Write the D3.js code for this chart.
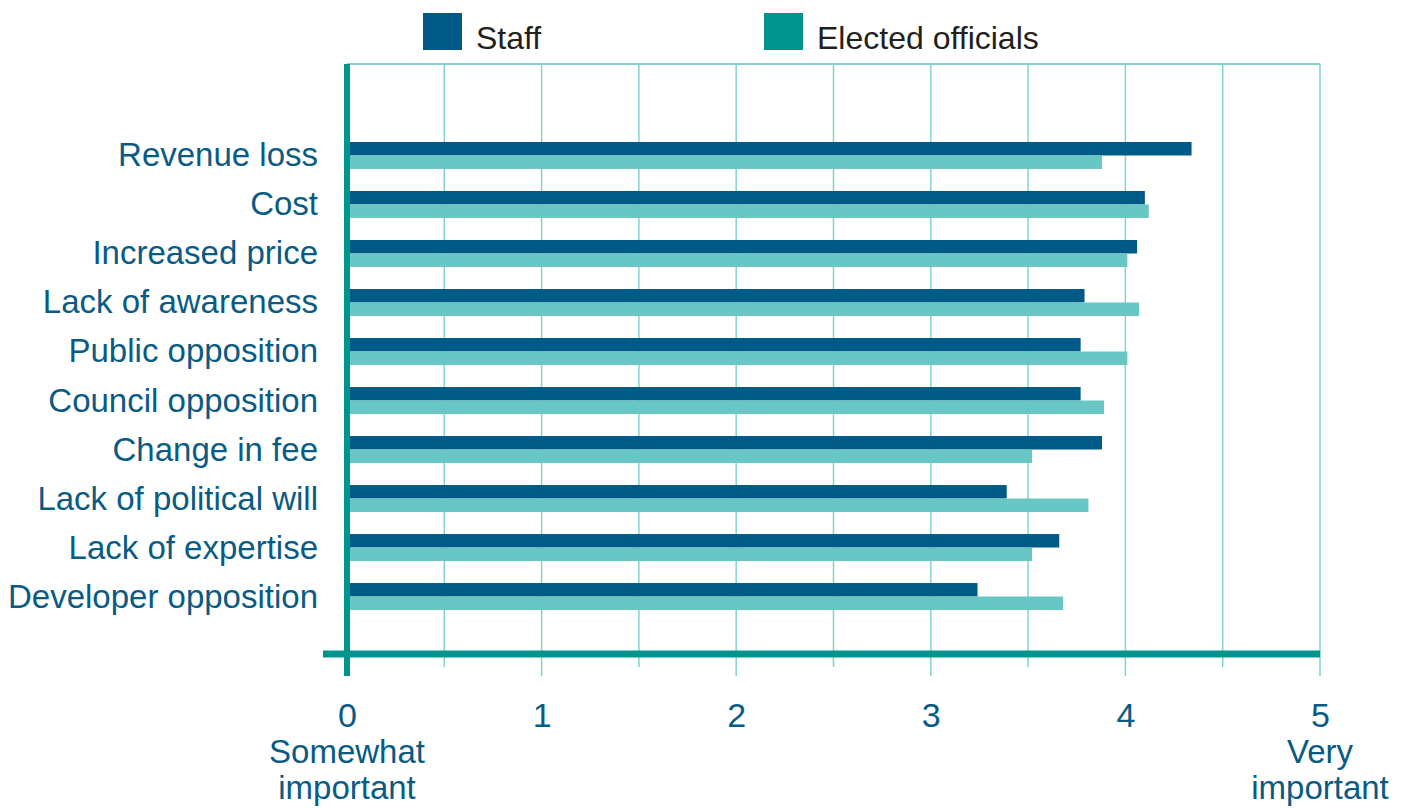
<!DOCTYPE html>
<html>
<head>
<meta charset="utf-8">
<script src="https://cdn.jsdelivr.net/npm/d3@7"></script>
<style>
  body { margin: 0; background: #fff; }
  svg { display: block; font-family: "Liberation Sans", Arial, sans-serif; }
</style>
</head>
<body>
<svg id="chart" width="1403" height="808"></svg>
<script>
// data
const categories = [
  "Revenue loss", "Cost", "Increased price", "Lack of awareness", "Public opposition",
  "Council opposition", "Change in fee", "Lack of political will", "Lack of expertise",
  "Developer opposition"
];
const seriesNames = ["Staff", "Elected officials"];
const staff = [4.34, 4.10, 4.06, 3.79, 3.77, 3.77, 3.88, 3.39, 3.66, 3.24];
const elected = [3.88, 4.12, 4.01, 4.07, 4.01, 3.89, 3.52, 3.81, 3.52, 3.68];
const tickLabels = [0, 1, 2, 3, 4, 5];
const gridTicks = [0.5, 1, 1.5, 2, 2.5, 3, 3.5, 4, 4.5, 5];
const endLabels = [
  { value: 0, lines: ["Somewhat", "important"] },
  { value: 5, lines: ["Very", "important"] }
];

const plotTop = 64, axisY = 654;
const darkBlue = "#005a87", lightTeal = "#68c7c5", teal = "#00948f", gridColor = "#84d2cf";
const textColor = "#0a5b84";

const svg = d3.select("#chart");

const x = d3.scaleLinear().domain([0, 5]).range([347, 1320]);
const y = d3.scaleBand().domain(categories).range([142, 610]).paddingInner(0.45).paddingOuter(0);
const inner = d3.scaleBand().domain(seriesNames).range([0, y.bandwidth()]);
const color = d3.scaleOrdinal().domain(seriesNames).range([darkBlue, lightTeal]);
const legendColor = d3.scaleOrdinal().domain(seriesNames).range([darkBlue, teal]);

const rows = categories.map((c, i) => ({ cat: c, values: [staff[i], elected[i]] }));

// grid
svg.append("line")
  .attr("x1", x(0)).attr("x2", x(5))
  .attr("y1", plotTop).attr("y2", plotTop)
  .attr("stroke", gridColor).attr("stroke-width", 2);

svg.selectAll(".grid")
  .data(gridTicks)
  .enter()
  .append("line")
  .attr("class", "grid")
  .attr("x1", d => x(d)).attr("x2", d => x(d))
  .attr("y1", plotTop)
  .attr("y2", d => d % 1 === 0 ? 676 : 667)
  .attr("stroke", gridColor)
  .attr("stroke-width", 1.5);

// bars
const groups = svg.selectAll(".row")
  .data(rows)
  .enter()
  .append("g")
  .attr("transform", d => "translate(0," + y(d.cat) + ")");

groups.selectAll("rect")
  .data(d => d.values.map((v, i) => ({ key: seriesNames[i], value: v })))
  .enter()
  .append("rect")
  .attr("x", x(0))
  .attr("y", d => inner(d.key))
  .attr("width", d => x(d.value) - x(0))
  .attr("height", inner.bandwidth())
  .attr("fill", d => color(d.key));

// axis lines
svg.append("line")
  .attr("x1", 323).attr("x2", x(5))
  .attr("y1", axisY).attr("y2", axisY)
  .attr("stroke", teal).attr("stroke-width", 7);

svg.append("line")
  .attr("x1", x(0)).attr("x2", x(0))
  .attr("y1", plotTop).attr("y2", 676)
  .attr("stroke", teal).attr("stroke-width", 6);

// category labels
svg.selectAll(".cat")
  .data(categories)
  .enter()
  .append("text")
  .attr("x", 318)
  .attr("y", d => y(d) + y.bandwidth() / 2 + 11)
  .attr("text-anchor", "end")
  .attr("fill", textColor)
  .style("font-size", "33px")
  .text(d => d);

// x tick labels
const xAxis = svg.append("g")
  .attr("transform", "translate(0,690)")
  .call(d3.axisBottom(x).tickValues(tickLabels).tickSize(0).tickPadding(0).tickFormat(d3.format("d")));
xAxis.select(".domain").remove();
xAxis.selectAll("text")
  .attr("dy", null)
  .attr("y", 37)
  .attr("fill", textColor)
  .style("font-size", "34px")
  .style("font-family", "'Liberation Sans', Arial, sans-serif");

svg.selectAll(".endlabel")
  .data(endLabels)
  .enter()
  .append("text")
  .attr("text-anchor", "middle")
  .attr("fill", textColor)
  .style("font-size", "33px")
  .selectAll("tspan")
  .data(d => d.lines.map((l, i) => ({ v: d.value, l: l, i: i })))
  .enter()
  .append("tspan")
  .attr("x", d => x(d.v))
  .attr("y", d => 763 + d.i * 36)
  .text(d => d.l);

// legend
const legendX = [423, 764];
const legend = svg.selectAll(".legend")
  .data(seriesNames)
  .enter()
  .append("g")
  .attr("transform", (d, i) => "translate(" + legendX[i] + ",13)");

legend.append("rect")
  .attr("width", 39).attr("height", 37)
  .attr("fill", d => legendColor(d));

legend.append("text")
  .attr("x", 53).attr("y", 36)
  .attr("fill", "#231f20")
  .style("font-size", "32px")
  .text(d => d);
</script>
</body>
</html>
